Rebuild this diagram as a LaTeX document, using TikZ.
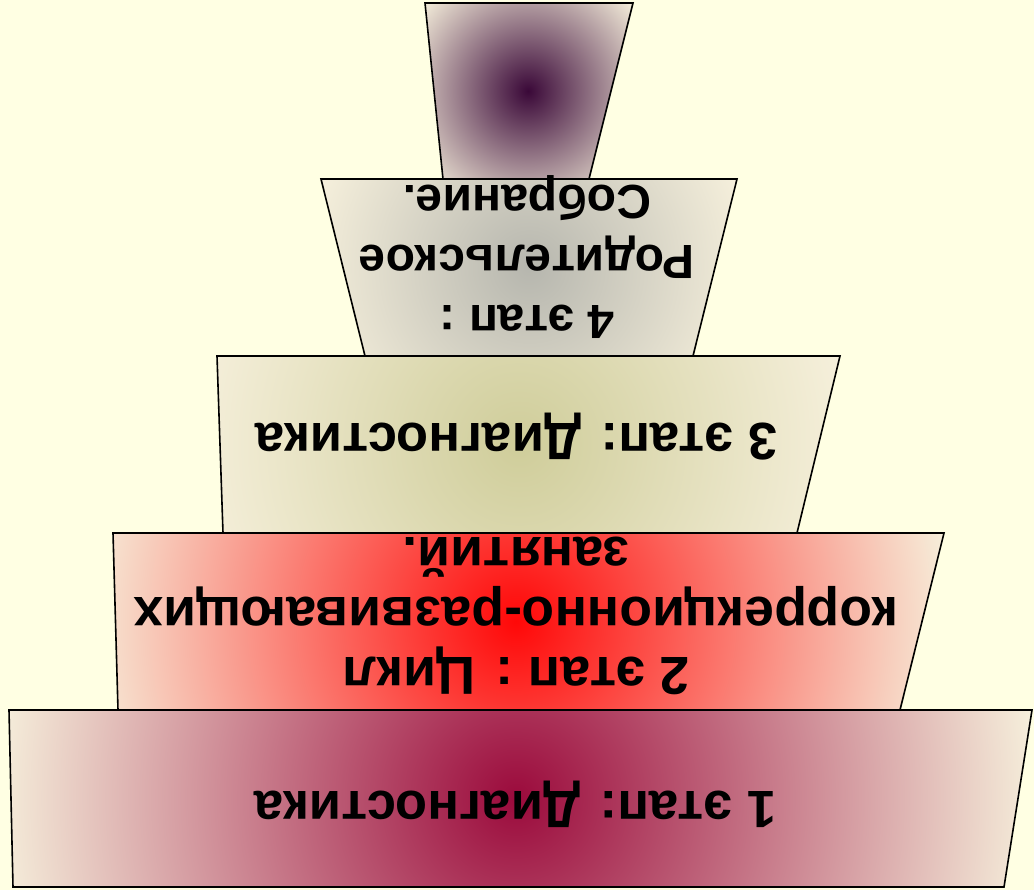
\documentclass[tikz,border=0pt]{standalone}
\usepackage{fontspec}
\setmainfont{Liberation Sans}

\definecolor{paper}{HTML}{FFFFE3}
\definecolor{cream}{HTML}{F6F0DC}
\definecolor{wine}{HTML}{9B0A3C}
\definecolor{scarlet}{HTML}{FF0808}
\definecolor{olive}{HTML}{CFCD9A}
\definecolor{silver}{HTML}{B6B6AE}
\definecolor{plum}{HTML}{3A0838}

% the edge of the shaded circle sits at 25bp
\pgfdeclareradialshading{glowwine}{\pgfpointorigin}{color(0bp)=(wine); color(25bp)=(cream); color(50bp)=(cream)}
\pgfdeclareradialshading{glowred}{\pgfpointorigin}{color(0bp)=(scarlet); color(25bp)=(cream); color(50bp)=(cream)}
\pgfdeclareradialshading{glowolive}{\pgfpointorigin}{color(0bp)=(olive); color(25bp)=(cream); color(50bp)=(cream)}
\pgfdeclareradialshading{glowsilver}{\pgfpointorigin}{color(0bp)=(silver); color(25bp)=(cream); color(50bp)=(cream)}
\pgfdeclareradialshading{glowplum}{\pgfpointorigin}{color(0bp)=(plum); color(25bp)=(cream); color(50bp)=(cream)}

\tikzset{
  band/.style={draw=black, line width=1.6pt, line join=miter},
  stagetext/.style={font=\bfseries\fontsize{52.5}{60}\selectfont, align=center, rotate=180, inner sep=0pt}
}

\begin{document}
\begin{tikzpicture}[x=1pt, y=-1pt]
    \fill[paper] (0,0) rectangle (1034,890);
    \useasboundingbox (0,0) rectangle (1034,890);

    % centres of the five bands
    \coordinate (c1) at (516,798); \coordinate (c2) at (516,621);
    \coordinate (c3) at (519,444); \coordinate (c4) at (529,267);
    \coordinate (c5) at (528,91);

    % bands, widest first
    \path[band, path picture={\shade[shading=glowwine] (c1) circle (524);}]
        (9,710) -- (1032,710) -- (1004,887) -- (13,887) -- cycle;
    \path[band, path picture={\shade[shading=glowred] (c2) circle (440);}]
        (113,533) -- (944,533) -- (900,710) -- (118,710) -- cycle;
    \path[band, path picture={\shade[shading=glowolive] (c3) circle (334);}]
        (217,356) -- (840,356) -- (797,533) -- (223,533) -- cycle;
    \path[band, path picture={\shade[shading=glowsilver] (c4) circle (227);}]
        (321,179) -- (737,179) -- (693,356) -- (365,356) -- cycle;
    \path[band, path picture={\shade[shading=glowplum] (c5) circle (138);}]
        (425,3) -- (633,3) -- (589,179) -- (443,179) -- cycle;

    % stage labels (upside down)
    \node[stagetext] (s1) at (515,804) {1 этап: Диагностика};
    \node[stagetext, font=\bfseries\fontsize{53.5}{60}\selectfont] (s2) at (516,616) {2 этап : Цикл\\коррекционно-развивающих\\занятий.};
    \node[stagetext] (s3) at (516,437) {3 этап: Диагностика};
    \node[stagetext, font=\bfseries\fontsize{48}{60}\selectfont] (s4) at (527,257) {4 этап :\\Родительское\\Собрание.};
\end{tikzpicture}
\end{document}
